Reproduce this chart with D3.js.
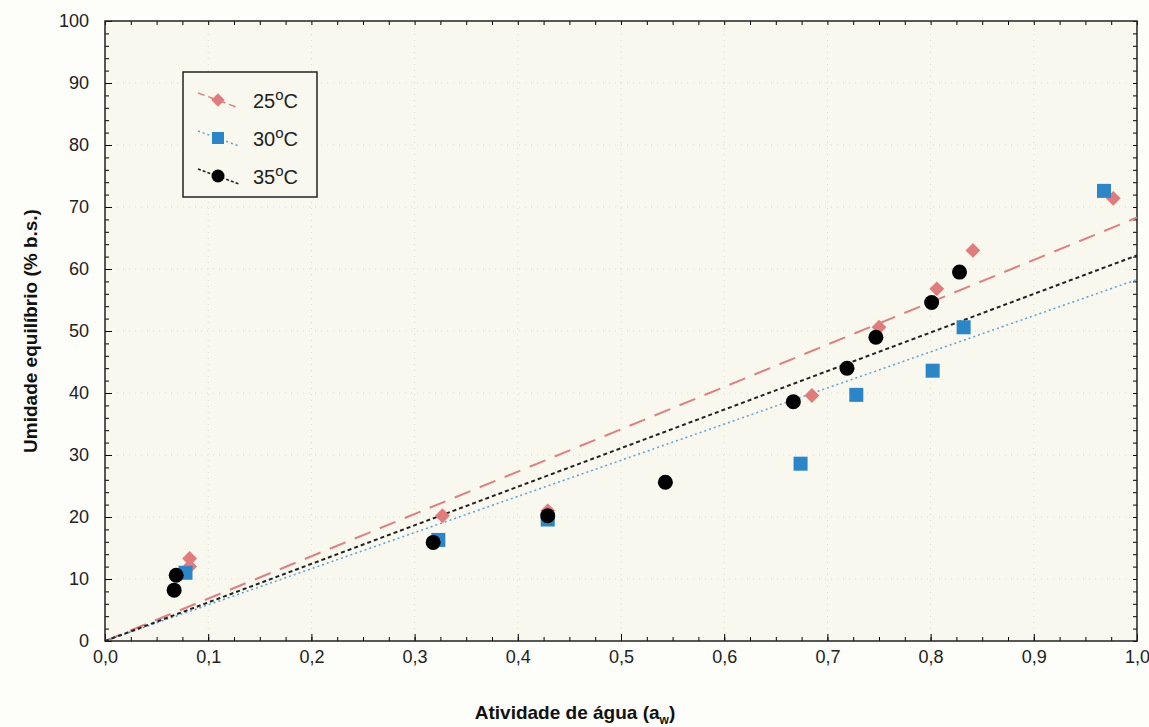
<!DOCTYPE html>
<html>
<head>
<meta charset="utf-8">
<script src="https://cdn.jsdelivr.net/npm/d3@7"></script>
<style>
  html, body { margin: 0; padding: 0; background: #fdfdf9; }
  svg text { font-family: "Liberation Sans", Arial, sans-serif; }
</style>
</head>
<body>
<div id="chart"></div>
<script>
// water activity (aw) vs equilibrium moisture (% b.s.)
const aw25 = [0.082, 0.082, 0.327, 0.429, 0.685, 0.750, 0.806, 0.841, 0.977];
const u25  = [13.3, 12.0, 20.2, 21.0, 39.6, 50.6, 56.8, 63.0, 71.4];
const aw30 = [0.078, 0.323, 0.429, 0.674, 0.728, 0.802, 0.832, 0.968];
const u30  = [11.0, 16.3, 19.6, 28.6, 39.7, 43.6, 50.6, 72.6];
const aw35 = [0.067, 0.069, 0.318, 0.429, 0.543, 0.667, 0.719, 0.747, 0.801, 0.828];
const u35  = [8.2, 10.6, 15.9, 20.2, 25.6, 38.6, 44.0, 49.0, 54.6, 59.5];

// fitted lines through origin, slope = value at aw = 1
const seriesNames = ['25', '30', '35'];
const slopes = [68.3, 58.3, 62.2];

const xTicks = [0, 0.1, 0.2, 0.3, 0.4, 0.5, 0.6, 0.7, 0.8, 0.9, 1.0];
const yTicks = [0, 10, 20, 30, 40, 50, 60, 70, 80, 90, 100];

const width = 1149, height = 727;
const margin = {top: 21, right: 12, bottom: 86, left: 105};

const svg = d3.select('#chart').append('svg')
    .attr('width', width)
    .attr('height', height);

const x = d3.scaleLinear().domain([0, 1]).range([margin.left, width - margin.right]);
const y = d3.scaleLinear().domain([0, 100]).range([height - margin.bottom, margin.top]);

// plot background
svg.append('rect')
    .attr('x', x(0)).attr('y', y(100))
    .attr('width', x(1) - x(0)).attr('height', y(0) - y(100))
    .style('fill', '#f8f8ee');

// faint grid
svg.append('g').selectAll('line.gx')
    .data(xTicks.slice(1, -1)).enter().append('line')
    .attr('x1', d => x(d)).attr('x2', d => x(d))
    .attr('y1', y(0)).attr('y2', y(100))
    .style('stroke', '#deded6').style('stroke-width', 1).style('stroke-dasharray', '1,5');
svg.append('g').selectAll('line.gy')
    .data(yTicks.slice(1, -1)).enter().append('line')
    .attr('y1', d => y(d)).attr('y2', d => y(d))
    .attr('x1', x(0)).attr('x2', x(1))
    .style('stroke', '#deded6').style('stroke-width', 1).style('stroke-dasharray', '1,5');

const fmt = d3.format('.1f');
const fmtX = d => fmt(d).replace('.', ',');

// axes with inward ticks
const xMinor = d3.range(0, 1.0001, 0.025);
const yMinor = d3.range(0, 100.001, 2);

svg.append('g')
    .attr('transform', `translate(0,${y(0)})`)
    .call(d3.axisBottom(x).tickValues(xMinor).tickSize(-4).tickFormat(''))
    .call(g => g.select('.domain').remove());
svg.append('g')
    .attr('transform', `translate(0,${y(0)})`)
    .call(d3.axisBottom(x).tickValues(xTicks).tickSize(-7).tickPadding(9).tickFormat(fmtX))
    .call(g => g.select('.domain').remove())
    .call(g => g.selectAll('text').style('font-size', '18px').style('fill', '#222'));

svg.append('g')
    .attr('transform', `translate(${x(0)},0)`)
    .call(d3.axisLeft(y).tickValues(yMinor).tickSize(-4).tickFormat(''))
    .call(g => g.select('.domain').remove());
svg.append('g')
    .attr('transform', `translate(${x(0)},0)`)
    .call(d3.axisLeft(y).tickValues(yTicks).tickSize(-7).tickPadding(16))
    .call(g => g.select('.domain').remove())
    .call(g => g.selectAll('text').style('font-size', '18px').style('fill', '#222'));

svg.append('g')
    .attr('transform', `translate(${x(1)},0)`)
    .call(d3.axisRight(y).tickValues(yMinor).tickSize(-4).tickFormat(''))
    .call(g => g.select('.domain').remove());
svg.append('g')
    .attr('transform', `translate(0,${y(100)})`)
    .call(d3.axisTop(x).tickValues(xMinor).tickSize(-4).tickFormat(''))
    .call(g => g.select('.domain').remove());

// frame
svg.append('rect')
    .attr('x', x(0)).attr('y', y(100))
    .attr('width', x(1) - x(0)).attr('height', y(0) - y(100))
    .style('fill', 'none').style('stroke', '#222').style('stroke-width', 1.5);

// fitted lines
const lineStyles = [
    {color: '#e08080', dash: '17,10', w: 2},
    {color: '#5aa2d8', dash: '2,3', w: 1.5},
    {color: '#222', dash: '4,3', w: 2}
];
svg.append('clipPath').attr('id', 'clip').append('rect')
    .attr('x', x(0)).attr('y', y(100))
    .attr('width', x(1) - x(0)).attr('height', y(0) - y(100));

const line = d3.line().x(d => x(d[0])).y(d => y(d[1]));
svg.append('g').attr('clip-path', 'url(#clip)')
    .selectAll('path').data(slopes).enter().append('path')
    .attr('d', b => line([[0, 0], [1, b]]))
    .style('fill', 'none')
    .style('stroke', (b, i) => lineStyles[i].color)
    .style('stroke-width', (b, i) => lineStyles[i].w)
    .style('stroke-dasharray', (b, i) => lineStyles[i].dash);

// markers
const diamond = d3.symbol().type(d3.symbolSquare).size(110);
const pts25 = aw25.map((a, i) => [a, u25[i]]);
const pts30 = aw30.map((a, i) => [a, u30[i]]);
const pts35 = aw35.map((a, i) => [a, u35[i]]);

svg.append('g').selectAll('path').data(pts25).enter().append('path')
    .attr('d', diamond)
    .attr('transform', d => `translate(${x(d[0])},${y(d[1])}) rotate(45)`)
    .style('fill', '#e07c7c');

svg.append('g').selectAll('rect').data(pts30).enter().append('rect')
    .attr('x', d => x(d[0]) - 7).attr('y', d => y(d[1]) - 7)
    .attr('width', 14).attr('height', 14)
    .style('fill', '#2b86c9');

svg.append('g').selectAll('circle').data(pts35).enter().append('circle')
    .attr('cx', d => x(d[0])).attr('cy', d => y(d[1]))
    .attr('r', 7.5)
    .style('fill', '#000');

// legend
const legend = svg.append('g').attr('transform', 'translate(183,72)');
legend.append('rect')
    .attr('width', 134).attr('height', 125)
    .style('fill', '#f8f8ee').style('stroke', '#222').style('stroke-width', 1.5);

const markerFns = [
    g => g.append('path').attr('d', d3.symbol().type(d3.symbolSquare).size(90))
        .attr('transform', 'rotate(45)').style('fill', '#e07c7c'),
    g => g.append('rect').attr('x', -6).attr('y', -6).attr('width', 12).attr('height', 12)
        .style('fill', '#2b86c9'),
    g => g.append('circle').attr('r', 6.5).style('fill', '#000')
];
const legendDash = ['7,4', '2,3', '3,2'];

seriesNames.forEach((name, i) => {
    const row = legend.append('g').attr('transform', `translate(0,${28 + i * 38})`);
    row.append('line')
        .attr('x1', 15).attr('y1', -7).attr('x2', 56).attr('y2', 8)
        .style('stroke', lineStyles[i].color).style('stroke-width', 1.5)
        .style('stroke-dasharray', legendDash[i]);
    const m = row.append('g').attr('transform', 'translate(35,0)');
    markerFns[i](m);
    const t = row.append('text').attr('x', 70).attr('y', 8)
        .style('font-size', '20px').style('fill', '#222');
    t.append('tspan').text(name);
    t.append('tspan').attr('dy', -8).style('font-size', '15px').text('o');
    t.append('tspan').attr('dy', 8).text('C');
});

// axis titles
svg.append('text')
    .attr('transform', `translate(37,${(y(0) + y(100)) / 2}) rotate(-90)`)
    .attr('text-anchor', 'middle')
    .style('font-size', '19px').style('font-weight', 'bold').style('fill', '#111')
    .text('Umidade equilíbrio (% b.s.)');

const xt = svg.append('text')
    .attr('x', 575).attr('y', 719)
    .attr('text-anchor', 'middle')
    .style('font-size', '19px').style('font-weight', 'bold').style('fill', '#111');
xt.append('tspan').text('Atividade de água (a');
xt.append('tspan').attr('dy', 5).style('font-size', '12px').text('w');
xt.append('tspan').attr('dy', -5).text(')');
</script>
</body>
</html>
